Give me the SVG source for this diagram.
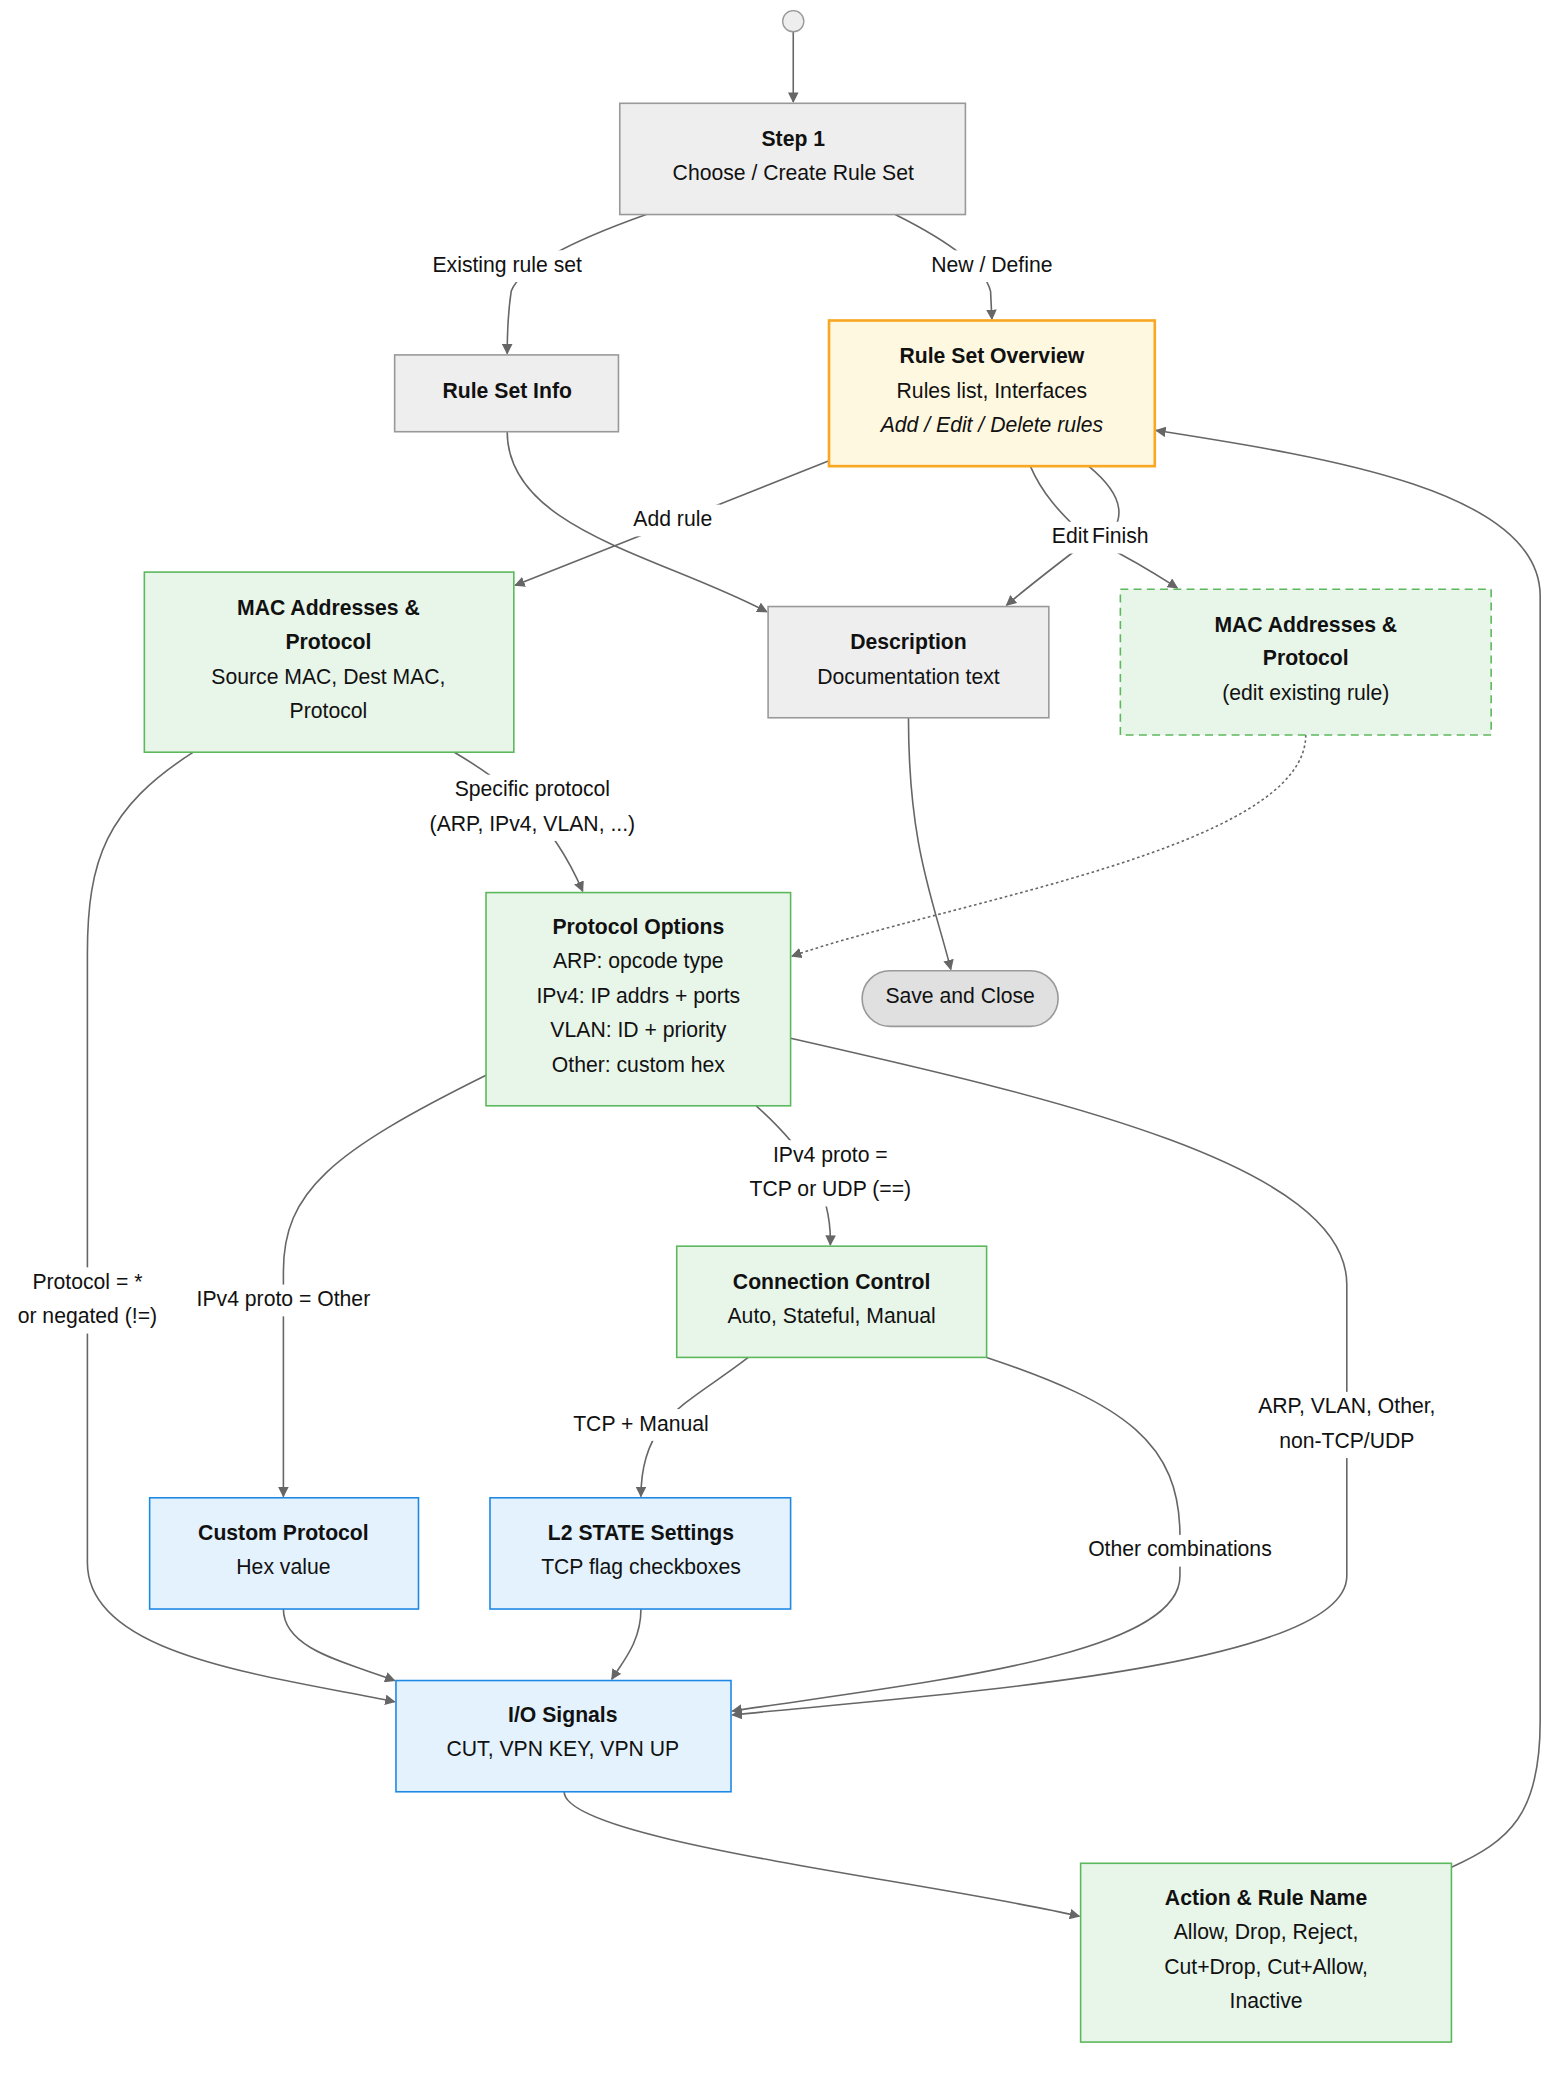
<svg xmlns="http://www.w3.org/2000/svg" width="1568" height="2074" viewBox="0 0 1568 2074">
<defs>
<marker id="ah" viewBox="0 0 10 10" refX="9" refY="5" markerWidth="8" markerHeight="8" orient="auto-start-reverse" markerUnits="userSpaceOnUse"><path d="M0,0 L10,5 L0,10 z" fill="#666"/></marker>
<style>
text{font-family:"Liberation Sans",Arial,sans-serif;font-size:16px;fill:#111;text-anchor:middle;dominant-baseline:middle}
.b{font-weight:bold}
.i{font-style:italic}
.gray{fill:#eeeeee;stroke:#999;stroke-width:1.2}
.yel{fill:#fff8e1;stroke:#f9a825;stroke-width:2}
.grn{fill:#e8f5e9;stroke:#5cb85c;stroke-width:1.2}
.dgrn{fill:#e8f5e9;stroke:#5cb85c;stroke-width:1.2;stroke-dasharray:6 4}
.blu{fill:#e3f2fd;stroke:#1e88e5;stroke-width:1.2}
.e{fill:none;stroke:#666;stroke-width:1.2}
.lb{fill:#fff}
</style>
</defs>
<rect width="1568" height="2074" fill="#fff"/>
<g transform="scale(1.3243)">
<g id="edges">
<path class="e" d="M599,24 L599,77" marker-end="url(#ah)"/>
<path class="e" d="M488,162 Q395,195 386,220 Q383,240 383,267" marker-end="url(#ah)"/>
<path class="e" d="M676,162 Q742,195 748,220 L749,241" marker-end="url(#ah)"/>
<path class="e" d="M626,348 L389,442" marker-end="url(#ah)"/>
<path class="e" d="M383,326 C383,400 500,420 579,462" marker-end="url(#ah)"/>
<path class="e" d="M778,352 C790,380 810,395 822,408 C800,425 780,440 760,457" marker-end="url(#ah)"/>
<path class="e" d="M822,352 C850,375 852,395 830,410 C860,425 875,435 889,444" marker-end="url(#ah)"/>
<path class="e" d="M686,542 C686,640 705,680 718,732" marker-end="url(#ah)"/>
<path class="e" d="M986,555 C986,640 720,680 598,722" stroke-dasharray="2 2" marker-end="url(#ah)"/>
<path class="e" d="M343,568 C380,590 415,615 440,673" marker-end="url(#ah)"/>
<path class="e" d="M146,568 C80,610 66,650 66,720 L66,1180 C66,1250 200,1265 298,1285" marker-end="url(#ah)"/>
<path class="e" d="M367,812 C250,870 214,900 214,960 L214,1130" marker-end="url(#ah)"/>
<path class="e" d="M571,835 C610,870 628,900 627,940" marker-end="url(#ah)"/>
<path class="e" d="M597,784 C800,830 1017,880 1017,970 L1017,1190 C1017,1260 700,1280 553,1295" marker-end="url(#ah)"/>
<path class="e" d="M565,1025 C520,1060 484,1070 484,1130" marker-end="url(#ah)"/>
<path class="e" d="M745,1025 C850,1060 891,1090 891,1160 L891,1190 C891,1250 700,1270 553,1292" marker-end="url(#ah)"/>
<path class="e" d="M214,1215 C214,1245 260,1255 298,1269" marker-end="url(#ah)"/>
<path class="e" d="M484,1215 C484,1240 470,1255 462,1268" marker-end="url(#ah)"/>
<path class="e" d="M426,1353 C426,1390 700,1420 815,1447" marker-end="url(#ah)"/>
<path class="e" d="M1096,1410 C1140,1390 1163,1370 1163,1300 L1163,450 C1163,370 1000,345 873,325" marker-end="url(#ah)"/>
<rect class="lb" x="318" y="189" width="130" height="24"/><text x="383" y="201">Existing rule set</text>
<rect class="lb" x="697" y="189" width="104" height="24"/><text x="749" y="201">New / Define</text>
<rect class="lb" x="472" y="381" width="72" height="24"/><text x="508" y="393">Add rule</text>
<rect class="lb" x="790" y="394" width="80" height="24"/><text x="808" y="406">Edit</text><text x="846" y="406">Finish</text>
<rect class="lb" x="315" y="585" width="174" height="50"/><text x="402" y="597">Specific protocol</text><text x="402" y="623">(ARP, IPv4, VLAN, ...)</text>
<rect class="lb" x="6" y="957" width="120" height="50"/><text x="66" y="969">Protocol = *</text><text x="66" y="995">or negated (!=)</text>
<rect class="lb" x="140" y="970" width="148" height="24"/><text x="214" y="982">IPv4 proto = Other</text>
<rect class="lb" x="558" y="861" width="138" height="50"/><text x="627" y="873">IPv4 proto =</text><text x="627" y="899">TCP or UDP (==)</text>
<rect class="lb" x="942" y="1051" width="150" height="50"/><text x="1017" y="1063">ARP, VLAN, Other,</text><text x="1017" y="1089">non-TCP/UDP</text>
<rect class="lb" x="425" y="1064" width="118" height="24"/><text x="484" y="1076">TCP + Manual</text>
<rect class="lb" x="814" y="1159" width="154" height="24"/><text x="891" y="1171">Other combinations</text>
</g>
<g id="start"><circle cx="599" cy="16" r="8" fill="#eee" stroke="#999"/></g>
<g id="step1"><rect class="gray" x="468" y="78" width="261" height="84"/><text class="b" x="599" y="106">Step 1</text><text x="599" y="132">Choose / Create Rule Set</text></g>
<g id="ruleSetInfo"><rect class="gray" x="298" y="268" width="169" height="58"/><text class="b" x="383" y="296">Rule Set Info</text></g>
<g id="overview"><rect class="yel" x="626" y="242" width="246" height="110"/><text class="b" x="749" y="270">Rule Set Overview</text><text x="749" y="296">Rules list, Interfaces</text><text class="i" x="749" y="322">Add / Edit / Delete rules</text></g>
<g id="macNew"><rect class="grn" x="109" y="432" width="279" height="136"/><text class="b" x="248" y="460">MAC Addresses &amp;</text><text class="b" x="248" y="486">Protocol</text><text x="248" y="512">Source MAC, Dest MAC,</text><text x="248" y="538">Protocol</text></g>
<g id="description"><rect class="gray" x="580" y="458" width="212" height="84"/><text class="b" x="686" y="486">Description</text><text x="686" y="512">Documentation text</text></g>
<g id="macEdit"><rect class="dgrn" x="846" y="445" width="280" height="110"/><text class="b" x="986" y="473">MAC Addresses &amp;</text><text class="b" x="986" y="498">Protocol</text><text x="986" y="524">(edit existing rule)</text></g>
<g id="protoOpts"><rect class="grn" x="367" y="674" width="230" height="161"/><text class="b" x="482" y="701">Protocol Options</text><text x="482" y="727">ARP: opcode type</text><text x="482" y="753">IPv4: IP addrs + ports</text><text x="482" y="779">VLAN: ID + priority</text><text x="482" y="805">Other: custom hex</text></g>
<g id="save"><rect x="651" y="733" width="148" height="42" rx="21" fill="#e0e0e0" stroke="#999" stroke-width="1.2"/><text x="725" y="753">Save and Close</text></g>
<g id="connCtrl"><rect class="grn" x="511" y="941" width="234" height="84"/><text class="b" x="628" y="969">Connection Control</text><text x="628" y="995">Auto, Stateful, Manual</text></g>
<g id="custom"><rect class="blu" x="113" y="1131" width="203" height="84"/><text class="b" x="214" y="1159">Custom Protocol</text><text x="214" y="1184">Hex value</text></g>
<g id="l2"><rect class="blu" x="370" y="1131" width="227" height="84"/><text class="b" x="484" y="1159">L2 STATE Settings</text><text x="484" y="1184">TCP flag checkboxes</text></g>
<g id="io"><rect class="blu" x="299" y="1269" width="253" height="84"/><text class="b" x="425" y="1296">I/O Signals</text><text x="425" y="1322">CUT, VPN KEY, VPN UP</text></g>
<g id="action"><rect class="grn" x="816" y="1407" width="280" height="135"/><text class="b" x="956" y="1434">Action &amp; Rule Name</text><text x="956" y="1460">Allow, Drop, Reject,</text><text x="956" y="1486">Cut+Drop, Cut+Allow,</text><text x="956" y="1512">Inactive</text></g>
</g>
</svg>
